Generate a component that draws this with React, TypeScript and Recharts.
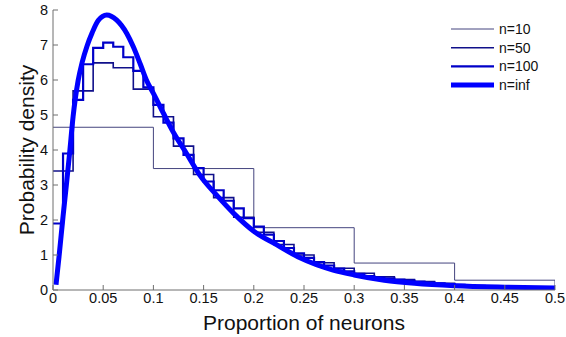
import { LineChart, Line, XAxis, YAxis, Label, Legend } from 'recharts';

const X_TICKS = [0, 0.05, 0.1, 0.15, 0.2, 0.25, 0.3, 0.35, 0.4, 0.45, 0.5];
const X_TICK_LABELS = ['0', '0.05', '0.1', '0.15', '0.2', '0.25', '0.3', '0.35', '0.4', '0.45', '0.5'];
const Y_TICKS = [0, 1, 2, 3, 4, 5, 6, 7, 8];

// histogram densities, one value per bin starting at 0
const N10_BIN = 0.1;
const N10_DENSITY = [4.65, 3.47, 1.78, 0.77, 0.28];

const N50_BIN = 0.02;
const N50_DENSITY = [
  3.4, 5.69, 6.49, 6.35, 5.74, 4.95, 4.11, 3.3, 2.64, 2.08,
  1.65, 1.3, 1.0, 0.78, 0.62, 0.48, 0.38, 0.3, 0.24, 0.19,
  0.15, 0.12, 0.1, 0.08, 0.06,
];

const N100_BIN = 0.01;
const N100_DENSITY = [
  1.9, 3.9, 5.43, 6.45, 6.92, 7.07, 6.95, 6.65, 6.26, 5.79,
  5.29, 4.78, 4.33, 3.86, 3.48, 3.1, 2.85, 2.55, 2.33, 2.05,
  1.81, 1.58, 1.4, 1.2, 1.05, 0.92, 0.8, 0.7, 0.61, 0.53,
  0.46, 0.4, 0.36, 0.33, 0.3, 0.27, 0.24, 0.21, 0.19, 0.17,
  0.15, 0.13, 0.12, 0.1, 0.09, 0.08, 0.07, 0.06, 0.06, 0.05,
];

// limiting density (n = inf)
const INF_X = [
  0.003, 0.006, 0.01, 0.0135, 0.0165, 0.02, 0.025, 0.029, 0.034, 0.039,
  0.045, 0.0535, 0.0635, 0.0735, 0.08, 0.087, 0.093, 0.1, 0.11, 0.12,
  0.133, 0.146, 0.163, 0.18, 0.2, 0.223, 0.246, 0.279, 0.3, 0.33,
  0.36, 0.4, 0.45, 0.5,
];
const INF_Y = [
  0.15, 0.95, 2.1, 3.05, 3.9, 4.95, 5.98, 6.5, 6.98, 7.35,
  7.7, 7.86, 7.71, 7.33, 6.95, 6.45, 6.0, 5.62, 5.05, 4.5,
  3.9, 3.29, 2.71, 2.19, 1.68, 1.29, 0.92, 0.57, 0.43, 0.28,
  0.19, 0.12, 0.08, 0.06,
];

const SERIES = [
  { name: 'n=10', color: '#44447e', width: 1 },
  { name: 'n=50', color: '#10108a', width: 1.6 },
  { name: 'n=100', color: '#0000c8', width: 2.2 },
  { name: 'n=inf', color: '#0000ff', width: 5 },
];

function toStairs(values: number[], bin: number) {
  const pts = values.map((v, i) => ({ x: +(i * bin).toFixed(3), y: v }));
  const end = +(values.length * bin).toFixed(3);
  pts.push({ x: end, y: values[values.length - 1] });
  pts.push({ x: end, y: 0 });
  return pts;
}

const n10Data = toStairs(N10_DENSITY, N10_BIN);
const n50Data = toStairs(N50_DENSITY, N50_BIN);
const n100Data = toStairs(N100_DENSITY, N100_BIN);
const infData = INF_X.map((x, i) => ({ x, y: INF_Y[i] }));

const FONT = '"Liberation Sans", Arial, Helvetica, sans-serif';
const AXIS_COLOR = '#6e6e6e';

function LegendBox() {
  return (
    <svg width={110} height={80} style={{ display: 'block' }}>
      {SERIES.map((s, i) => {
        const y = 10 + i * 18.7;
        return (
          <g key={s.name}>
            <line x1={3} x2={46} y1={y} y2={y} stroke={s.color} strokeWidth={s.width} />
            <text x={51} y={y} dy="0.35em" fontSize={14} fontFamily={FONT} fill="#111">
              {s.name}
            </text>
          </g>
        );
      })}
    </svg>
  );
}

export default function App() {
  return (
    <div style={{ position: 'absolute', left: 0, top: 0, background: '#fff' }}>
      <LineChart
        width={566}
        height={337}
        margin={{ top: 10, right: 11, bottom: 0, left: 0 }}
        style={{ fontFamily: FONT }}
      >
        <XAxis
          type="number"
          dataKey="x"
          domain={[0, 0.5]}
          ticks={X_TICKS}
          allowDataOverflow
          height={47}
          tickSize={-5}
          tickMargin={8}
          tickFormatter={(v: number) => X_TICK_LABELS[X_TICKS.indexOf(v)] ?? String(v)}
          tick={{ fontSize: 14.5, fill: '#111' }}
          axisLine={{ stroke: AXIS_COLOR }}
          tickLine={{ stroke: AXIS_COLOR }}
        >
          <Label
            value="Proportion of neurons"
            position="insideBottom"
            offset={7}
            style={{ fontSize: 21, fill: '#111' }}
          />
        </XAxis>
        <YAxis
          type="number"
          domain={[0, 8]}
          ticks={Y_TICKS}
          allowDataOverflow
          width={53}
          tickSize={-5}
          tickMargin={10}
          tick={{ fontSize: 14.5, fill: '#111' }}
          axisLine={{ stroke: AXIS_COLOR }}
          tickLine={{ stroke: AXIS_COLOR }}
        >
          <Label
            value="Probability density"
            angle={-90}
            position="center"
            style={{ fontSize: 21, fill: '#111', textAnchor: 'middle' }}
          />
        </YAxis>
        <Legend
          layout="vertical"
          align="center"
          verticalAlign="middle"
          wrapperStyle={{ left: 448, top: 19, width: 110 }}
          content={() => <LegendBox />}
        />
        <Line
          data={n10Data}
          dataKey="y"
          name="n=10"
          type="stepAfter"
          stroke={SERIES[0].color}
          strokeWidth={SERIES[0].width}
          dot={false}
          activeDot={false}
          isAnimationActive={false}
        />
        <Line
          data={n50Data}
          dataKey="y"
          name="n=50"
          type="stepAfter"
          stroke={SERIES[1].color}
          strokeWidth={SERIES[1].width}
          dot={false}
          activeDot={false}
          isAnimationActive={false}
        />
        <Line
          data={n100Data}
          dataKey="y"
          name="n=100"
          type="stepAfter"
          stroke={SERIES[2].color}
          strokeWidth={SERIES[2].width}
          dot={false}
          activeDot={false}
          isAnimationActive={false}
        />
        <Line
          data={infData}
          dataKey="y"
          name="n=inf"
          type="monotone"
          stroke={SERIES[3].color}
          strokeWidth={SERIES[3].width}
          dot={false}
          activeDot={false}
          isAnimationActive={false}
        />
      </LineChart>
    </div>
  );
}
